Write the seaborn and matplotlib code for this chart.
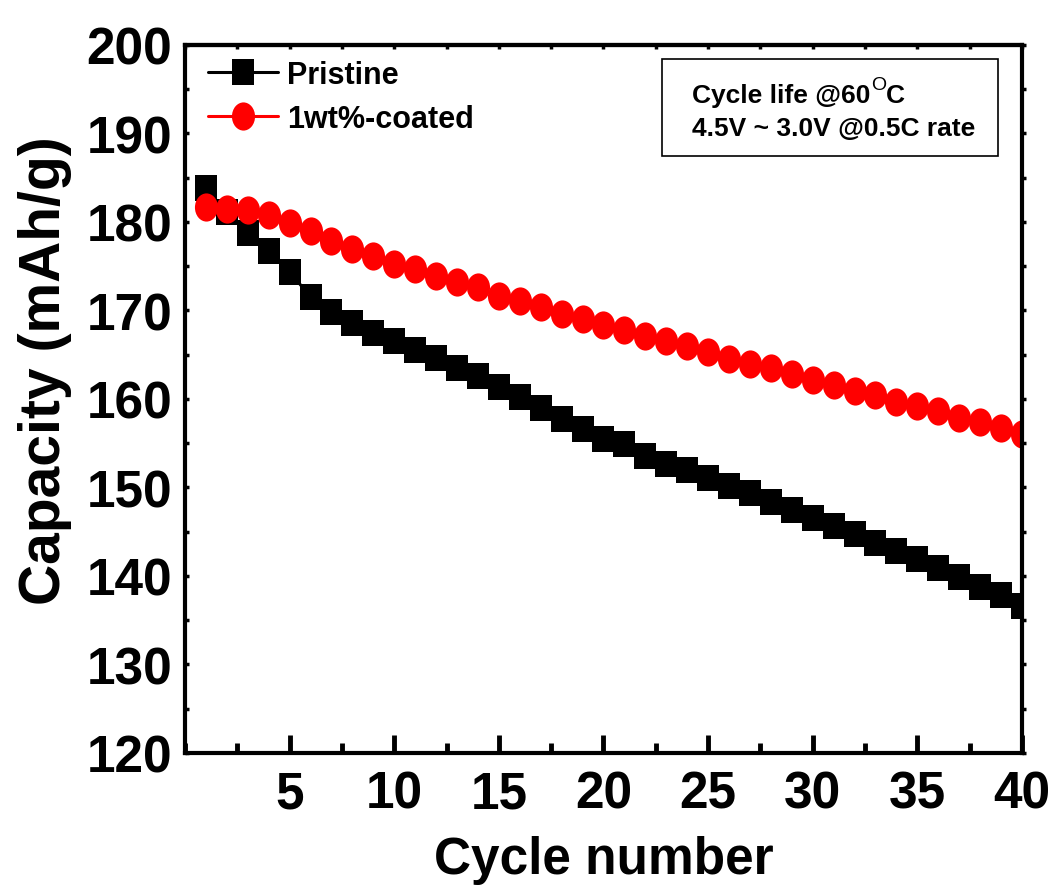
import numpy as np
import pandas as pd
import matplotlib
matplotlib.use("Agg")
import matplotlib.pyplot as plt
from matplotlib.path import Path
from matplotlib.transforms import Affine2D
from matplotlib.patches import Rectangle
from matplotlib.ticker import MultipleLocator
import seaborn as sns

# ---------------- data ----------------
cycles = list(range(1, 41))
pristine = [183.8, 181.1, 178.8, 176.7, 174.4, 171.5, 169.8, 168.6, 167.5, 166.5,
            165.5, 164.6, 163.5, 162.6, 161.4, 160.2, 159.0, 157.7, 156.6, 155.5,
            154.9, 153.6, 152.6, 152.0, 151.1, 150.2, 149.4, 148.4, 147.5, 146.6,
            145.7, 144.7, 143.7, 142.8, 141.9, 140.9, 139.9, 138.8, 137.8, 136.6]
coated = [181.7, 181.5, 181.3, 180.8, 179.9, 179.0, 177.9, 176.9, 176.1, 175.3,
          174.7, 173.9, 173.2, 172.6, 171.6, 171.1, 170.4, 169.6, 169.0, 168.3,
          167.8, 167.1, 166.6, 166.0, 165.3, 164.5, 164.0, 163.5, 162.8, 162.1,
          161.6, 160.9, 160.4, 159.7, 159.2, 158.6, 157.9, 157.4, 156.7, 156.0]
series_labels = ["Pristine", "1wt%-coated"]
series_colors = ["#000000", "#ff0000"]
x_label = "Cycle number"
y_label = "Capacity (mAh/g)"
x_ticks = [5, 10, 15, 20, 25, 30, 35, 40]
y_ticks = [120, 130, 140, 150, 160, 170, 180, 190, 200]
note_line1 = "Cycle life @60"
note_sup = "O"
note_tail = "C"
note_line2 = "4.5V ~ 3.0V @0.5C rate"

# ---------------- style ----------------
sns.set_theme(style="ticks")
FONT = ["Liberation Sans", "DejaVu Sans"]
plt.rcParams["font.family"] = FONT
plt.rcParams["font.weight"] = "bold"
plt.rcParams["text.color"] = "black"
plt.rcParams["axes.labelcolor"] = "black"
plt.rcParams["xtick.color"] = "black"
plt.rcParams["ytick.color"] = "black"

fig = plt.figure(figsize=(10.54, 8.87), dpi=100)
ax = fig.add_axes([0.1755, 0.150, 0.7941, 0.7982])

# slightly tall markers (the reference is vertically stretched)
sq_marker = Path([(-0.423, -0.5), (0.423, -0.5), (0.423, 0.5), (-0.423, 0.5), (-0.423, -0.5)],
                 [Path.MOVETO, Path.LINETO, Path.LINETO, Path.LINETO, Path.CLOSEPOLY])
el_marker = Affine2D().scale(0.82, 1.0).transform_path(Path.unit_circle())

df = pd.DataFrame({"cycle": cycles, "pristine": pristine, "coated": coated})

sns.lineplot(data=df, x="cycle", y="pristine", ax=ax, color=series_colors[0],
             marker=sq_marker, markersize=18.7, mew=0, linewidth=2.2,
             errorbar=None, label=series_labels[0])
sns.lineplot(data=df, x="cycle", y="coated", ax=ax, color=series_colors[1],
             marker=el_marker, markersize=20.3, mew=0, linewidth=2.2,
             errorbar=None, label=series_labels[1])

ax.set_xlim(0, 40)
ax.set_ylim(120, 200)
ax.set_xticks(x_ticks)
ax.set_yticks(y_ticks)
ax.xaxis.set_minor_locator(MultipleLocator(2.5))
ax.yaxis.set_minor_locator(MultipleLocator(5))

for s in ax.spines.values():
    s.set_linewidth(3)
    s.set_color("black")

ax.tick_params(axis="x", which="major", direction="in", length=13, width=3.5,
               pad=12, labelsize=37, colors="black")
ax.tick_params(axis="x", which="minor", direction="in", length=7, width=3.5, colors="black")
ax.tick_params(axis="y", which="both", direction="in", length=3, width=2.5,
               pad=9, labelsize=37, colors="black")

for lab in ax.get_xticklabels() + ax.get_yticklabels():
    lab.set_fontweight("bold")

# tiny mirrored ticks on top / right
top = ax.secondary_xaxis("top")
top.set_xticks(np.arange(0, 41, 2.5))
top.tick_params(direction="in", length=3, width=2.5, labeltop=False)
top.spines["top"].set_linewidth(3)
right = ax.secondary_yaxis("right")
right.set_yticks(np.arange(120, 201, 5))
right.tick_params(direction="out", length=3, width=2.5, labelright=False)

ax.set_xlabel(x_label, fontsize=37, fontweight="bold", color="black")
ax.xaxis.set_label_coords(0.5, -0.116)
ax.set_ylabel(y_label, fontsize=41, fontweight="bold", color="black")
ax.yaxis.set_label_coords(-0.135, 0.541)

leg = ax.legend(loc="upper left", bbox_to_anchor=(0.0275, 0.979), frameon=False,
                borderpad=0, borderaxespad=0, handlelength=2.3, handletextpad=0.3,
                labelspacing=0.45, prop={"size": 22, "weight": "bold"})
for txt in leg.get_texts():
    txt.set_color("black")

# annotation box
ax.add_patch(Rectangle((0.570, 0.843), 0.4013, 0.137, transform=ax.transAxes,
                       fill=False, edgecolor="black", linewidth=1.2, zorder=5))
t1 = ax.text(0.6057, 0.9195, note_line1, transform=ax.transAxes, fontsize=19,
             fontweight="bold", va="baseline", ha="left", color="black")
t2 = ax.annotate(note_sup, xy=(1, 1), xycoords=t1, xytext=(0.5, 5),
                 textcoords="offset points", fontsize=14, fontweight="normal",
                 va="top", ha="left", color="black")
t3 = ax.annotate(note_tail, xy=(1, 0), xycoords=(t2, t1), fontsize=19,
                 fontweight="bold", va="bottom", ha="left", color="black")
ax.text(0.6057, 0.8729, note_line2, transform=ax.transAxes, fontsize=19,
        fontweight="bold", va="baseline", ha="left", color="black")

fig.savefig("out.png", dpi=100)
